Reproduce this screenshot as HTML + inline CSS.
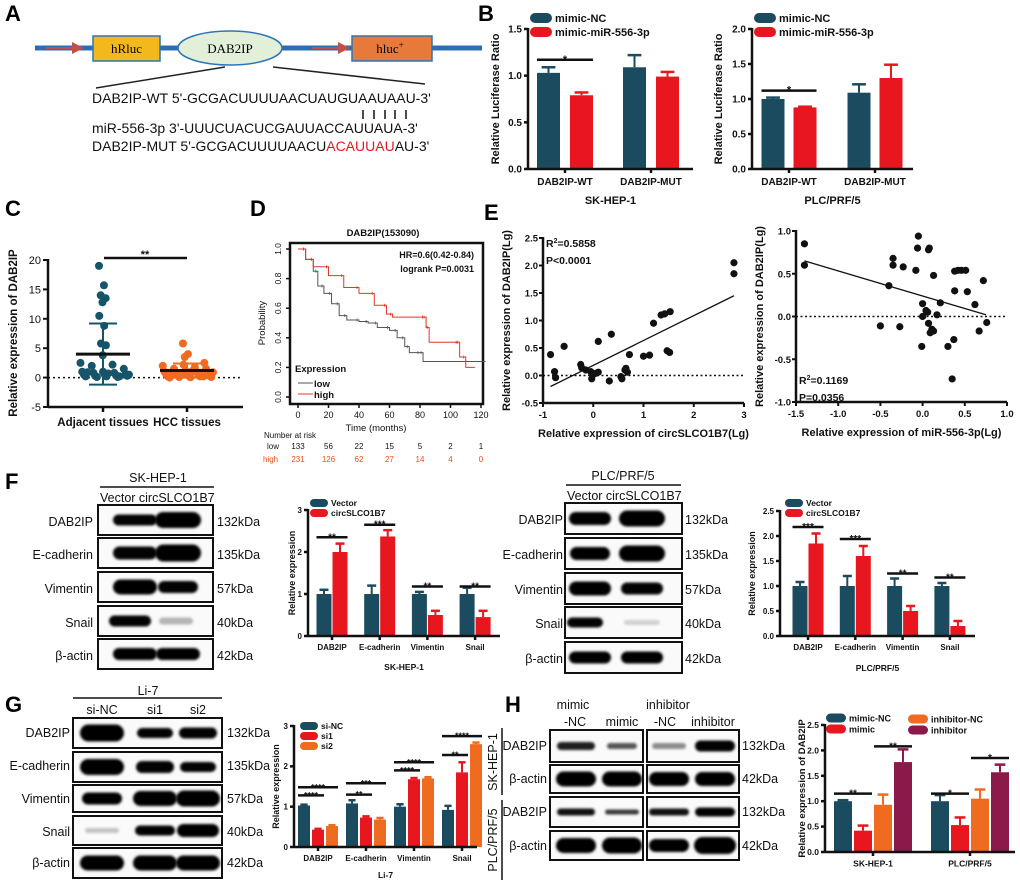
<!DOCTYPE html>
<html><head><meta charset="utf-8">
<style>
html,body{margin:0;padding:0;background:#fff;}
svg{display:block;font-family:"Liberation Sans",Arial,sans-serif;}
.pl{font-size:22px;font-weight:bold;}
.b{font-weight:bold;}
</style></head>
<body>
<svg id="fig" width="1020" height="885" viewBox="0 0 1020 885" xmlns="http://www.w3.org/2000/svg">
<defs>
<filter id="blur" x="-20%" y="-50%" width="140%" height="200%"><feGaussianBlur stdDeviation="1.2"/></filter>
<marker id="arr" markerWidth="6" markerHeight="6" refX="5" refY="3" orient="auto"><path d="M0,0 L6,3 L0,6 z" fill="#c0504d"/></marker>
</defs>

<!-- Panel A -->
<g>
<text x="5" y="21" class="pl">A</text>
<line x1="35" y1="48" x2="482" y2="48" stroke="#2e6db4" stroke-width="5"/>
<line x1="46" y1="48" x2="82" y2="48" stroke="#c0504d" stroke-width="2" marker-end="url(#arr)"/>
<line x1="312" y1="48" x2="348" y2="48" stroke="#c0504d" stroke-width="2" marker-end="url(#arr)"/>
<rect x="93" y="36" width="67" height="25" fill="#f2b81c" stroke="#2e75b6" stroke-width="1.5"/>
<text x="126.5" y="53" text-anchor="middle" font-family="Liberation Serif,serif" font-size="13">hRluc</text>
<ellipse cx="230" cy="48" rx="52" ry="17" fill="#e2efd9" stroke="#2e75b6" stroke-width="1.5"/>
<text x="230" y="53" text-anchor="middle" font-family="Liberation Serif,serif" font-size="13">DAB2IP</text>
<rect x="352" y="36" width="80" height="25" fill="#e7793a" stroke="#2e75b6" stroke-width="1.5"/>
<text x="390" y="53" text-anchor="middle" font-family="Liberation Serif,serif" font-size="13">hluc<tspan dy="-5" font-size="9">+</tspan></text>
<line x1="225" y1="67" x2="96" y2="88" stroke="#222" stroke-width="1.5"/>
<line x1="273" y1="67" x2="425" y2="84" stroke="#222" stroke-width="1.5"/>
<g font-size="14" fill="#111">
<text x="92" y="103">DAB2IP-WT 5'-GCGACUUUUAACUAUGUAAUAAU-3'</text>
<g stroke="#111" stroke-width="1.5">
<line x1="363" y1="110" x2="363" y2="119"/><line x1="374" y1="110" x2="374" y2="119"/><line x1="385" y1="110" x2="385" y2="119"/><line x1="395" y1="110" x2="395" y2="119"/><line x1="406" y1="110" x2="406" y2="119"/>
</g>
<text x="92" y="133">miR-556-3p  3'-UUUCUACUCGAUUACCAUUAUA-3'</text>
<text x="92" y="151">DAB2IP-MUT 5'-GCGACUUUUAACU<tspan fill="#e8161f">ACAUUAU</tspan>AU-3'</text>
</g>
</g>

<text x="478" y="21" class="pl">B</text>
<text x="5" y="216" class="pl">C</text>
<text x="250" y="216" class="pl">D</text>
<text x="484" y="220" class="pl">E</text>
<text x="5" y="489" class="pl">F</text>
<text x="5" y="712" class="pl">G</text>
<text x="505" y="712" class="pl">H</text>

<g id="dyn"></g>
</svg>

<script>
// ---------- DATA ----------
// Panel B
var bCats = ["DAB2IP-WT","DAB2IP-MUT"];
var bLeftNC = [1.03,1.09], bLeftMimic = [0.79,0.99];
var bLeftNCErr = [0.06,0.13], bLeftMimicErr = [0.03,0.05];
var bRightNC = [1.0,1.09], bRightMimic = [0.88,1.30];
var bRightNCErr = [0.02,0.12], bRightMimicErr = [0.01,0.19];
var bLeftTicks = [0,0.5,1.0,1.5], bRightTicks = [0,0.5,1.0,1.5,2.0];
// Panel C
var cCats = ["Adjacent tissues","HCC tissues"];
var cAdjacent = [19,15.7,14,13.5,12.8,10.5,8.8,5.8,5.5,3.8,2.5,2.2,2,1.5,1,1,0.8,0.8,0.6,0.5,0.5,0.4,0.3,0.3,0.2,0.2,0.1,0.1,0.5,0.7,0.9,0.2];
var cHCC = [5.8,4,3.5,2.5,2.2,2,1.8,1.5,1.5,1.2,1,1,0.8,0.8,0.6,0.5,0.5,0.4,0.3,0.3,0.2,0.2,0.1,0.1,0.05,0,0.3,0.6,0.9,1.1,0.4,0.2];
var cMeans = [4.0,1.2], cSD = [5.2,1.2];
var cTicks = [-5,0,5,10,15,20];
// Panel D (Kaplan-Meier)
var dLowT = [0,5,10,13,17,22,27,32,40,46,52,60,65,70,73,80,82,123];
var dLowS = [1,0.93,0.85,0.75,0.70,0.63,0.55,0.52,0.51,0.50,0.47,0.45,0.40,0.34,0.30,0.30,0.24,0.24];
var dHighT = [0,5,10,20,30,40,50,58,62,83,84,86,105,106,110,116];
var dHighS = [1,0.93,0.88,0.82,0.74,0.70,0.62,0.56,0.54,0.54,0.47,0.37,0.37,0.27,0.20,0.20];
var dXTicks = [0,20,40,60,80,100,120], dYTicks = [0,0.2,0.4,0.6,0.8,1.0];
var dRiskLow = [133,56,22,15,5,2,1], dRiskHigh = [231,126,62,27,14,4,0];
// Panel E
var eLeftX = [-0.85,-0.77,-0.75,-0.58,-0.25,-0.23,-0.15,-0.05,-0.03,0,0.05,0.1,0.1,0.32,0.36,0.55,0.57,0.63,0.65,0.68,0.72,1.0,1.12,1.2,1.35,1.42,1.47,1.52,1.53,2.8,2.8];
var eLeftY = [0.38,0.07,-0.04,0.53,0.2,0.14,0.1,0.07,-0.06,0.02,0.04,0.06,0.62,-0.1,0.75,-0.02,-0.06,0.1,0.13,0.06,0.38,0.35,0.37,0.95,1.1,1.12,0.45,0.42,1.16,2.05,1.85];
var eLeftFit = [[-0.85,-0.2],[2.8,1.45]];
var eRightX = [-1.4,-1.4,-0.5,-0.4,-0.35,-0.35,-0.27,-0.23,-0.08,-0.06,-0.05,0.08,0.07,0,0,-0.01,0.04,0.06,0.07,0.09,0.11,0.13,0.13,0.17,0.21,0.3,0.35,0.37,0.38,0.38,0.42,0.46,0.51,0.53,0.62,0.67,0.72,0.76];
var eRightY = [0.85,0.6,-0.11,0.36,0.68,0.6,-0.12,0.58,0.54,0.8,0.94,0.8,0.78,0.15,0.0,-0.35,0.07,0.05,-0.08,-0.19,-0.15,-0.17,0.48,0.02,0.16,-0.35,-0.73,-0.27,0.53,0.3,0.54,0.54,0.54,0.29,0.14,-0.17,0.42,-0.07];
var eRightFit = [[-1.4,0.65],[0.75,0.02]];
// Panel F
var fCats = ["DAB2IP","E-cadherin","Vimentin","Snail"];
var fSkVector = [1,1,1,1], fSkCirc = [2.0,2.37,0.5,0.45];
var fSkVectorErr = [0.1,0.2,0.05,0.15], fSkCircErr = [0.2,0.15,0.1,0.15];
var fPlcVector = [1,1,1,1], fPlcCirc = [1.85,1.6,0.5,0.2];
var fPlcVectorErr = [0.08,0.2,0.15,0.06], fPlcCircErr = [0.2,0.2,0.1,0.1];
// Panel G
var gNC = [1.03,1.08,1.0,0.92], gSi1 = [0.43,0.73,1.68,1.85], gSi2 = [0.52,0.68,1.7,2.55];
var gNCErr = [0.02,0.08,0.06,0.1], gSi1Err = [0.02,0.03,0.03,0.25], gSi2Err = [0.02,0.04,0.03,0.04];
// Panel H
var hCats = ["SK-HEP-1","PLC/PRF/5"];
var hMimicNC = [1.0,1.0], hMimic = [0.42,0.53], hInhNC = [0.93,1.05], hInh = [1.77,1.57];
var hMimicNCErr = [0.02,0.12], hMimicErr = [0.1,0.15], hInhNCErr = [0.2,0.18], hInhErr = [0.25,0.15];

// ---------- HELPERS ----------
var NS = "http://www.w3.org/2000/svg";
var root = document.getElementById("dyn");
var TEAL="#1a4b5e", RED="#e8161f", ORANGE="#ef6b1f", MAROON="#8b1a4a";
function mk(tag, attrs, parent){
  var e = document.createElementNS(NS, tag);
  for (var k in attrs) e.setAttribute(k, attrs[k]);
  (parent||root).appendChild(e); return e;
}
function txt(x,y,s,size,opts,parent){
  opts = opts||{};
  var t = mk("text",{x:x,y:y,"font-size":size,"text-anchor":opts.anchor||"start","font-weight":opts.bold?"bold":"normal",fill:opts.fill||"#111"},parent);
  if (opts.rot) t.setAttribute("transform","rotate("+opts.rot+" "+x+" "+y+")");
  t.textContent = s; return t;
}

function barChart(cfg, cats, vals, errs, colors, sigs){
  var g = mk("g",{});
  
  
  function y(v){ return cfg.y0 - (v - (cfg.ymin||0))/(cfg.ymax-(cfg.ymin||0))*(cfg.y0-cfg.yTop); }
  var n = vals.length;
  function bx(i,j){ return cfg.xStart + i*cfg.step + (j-(n-1)/2)*cfg.gap; }
  for (var j=0;j<n;j++){
    for (var i=0;i<cats.length;i++){
      var v = vals[j][i], cx = bx(i,j);
      var r = mk("rect",{x:cx-cfg.bw/2,y:y(v),width:cfg.bw,height:y(0)-y(v),fill:colors[j]},g);
      
      
      var e = errs[j][i];
      mk("line",{x1:cx,x2:cx,y1:y(v),y2:y(v+e),stroke:colors[j],"stroke-width":2},g);
      mk("line",{x1:cx-cfg.bw*0.3,x2:cx+cfg.bw*0.3,y1:y(v+e),y2:y(v+e),stroke:colors[j],"stroke-width":2.5},g);
    }
  }
  var ax = mk("g",{stroke:"#111","stroke-width":2.5},g);
  mk("line",{x1:cfg.axisX,x2:cfg.axisX,y1:cfg.yTop-1,y2:y(cfg.ymin||0)+1},ax);
  mk("line",{x1:cfg.axisX,x2:cfg.xEnd,y1:y(0),y2:y(0)},ax);
  cfg.ticks.forEach(function(t,k){
    mk("line",{x1:cfg.axisX-4,x2:cfg.axisX,y1:y(t),y2:y(t)},ax);
    txt(cfg.axisX-6,y(t)+cfg.tf*0.35,cfg.tickLabels[k],cfg.tf,{anchor:"end",bold:true},g);
  });
  cats.forEach(function(c,i){
    var cx = cfg.xStart + i*cfg.step;
    mk("line",{x1:cx,x2:cx,y1:y(0),y2:y(0)+4},ax);
    var t = txt(cx,y(0)+cfg.tf+6,c,cfg.tf,{anchor:"middle",bold:true},g);
    
    
  });
  var yt = txt(cfg.ytX,(cfg.yTop+cfg.y0)/2,cfg.ytitle,cfg.yf,{anchor:"middle",bold:true,rot:-90},g);
  
  
  if (cfg.sub){
    var st = txt((cfg.axisX+cfg.xEnd)/2,cfg.subY,cfg.sub,cfg.sf,{anchor:"middle",bold:true},g);
    
    
  }
  cfg.legend.forEach(function(L){
    var sw = mk("rect",{x:L[0],y:L[1]-L[4]/2,width:L[5],height:L[4],rx:L[4]/2,fill:L[3]},g);
    
    
    var lt = txt(L[0]+L[5]+3,L[1]+L[4]*0.4,L[2],cfg.lf,{bold:true},g);
    
    
  });
  (sigs||[]).forEach(function(s){
    var x1 = bx(s[0],s[1])-cfg.bw/2, x2 = bx(s[0],s[2])+cfg.bw/2, yy = y(s[3]);
    mk("line",{x1:x1,x2:x2,y1:yy,y2:yy,stroke:"#111","stroke-width":2.5},g);
    txt((x1+x2)/2,yy+3,s[4],cfg.sigf||11,{anchor:"middle",bold:true},g);
  });
}

// ---------- PANEL B ----------
barChart({name:"chart-b-sk-hep-1",xStart:565,step:86,gap:33,bw:23,y0:169,yTop:29,ymax:1.5,axisX:528,xEnd:693,
  ticks:bLeftTicks,tickLabels:["0.0","0.5","1.0","1.5"],tf:10,ytX:499,ytitle:"Relative Luciferase Ratio",yf:11,
  sub:"SK-HEP-1",subY:204,sf:11,lf:11,
  legend:[[530,18,"mimic-NC",TEAL,10,22],[530,32,"mimic-miR-556-3p",RED,10,22]]},
  bCats,[bLeftNC,bLeftMimic],[bLeftNCErr,bLeftMimicErr],[TEAL,RED],[[0,0,1,1.17,"*"]]);
barChart({name:"chart-b-plc-prf-5",xStart:789,step:86,gap:32,bw:23,y0:169,yTop:29,ymax:2.0,axisX:752,xEnd:913,
  ticks:bRightTicks,tickLabels:["0.0","0.5","1.0","1.5","2.0"],tf:10,ytX:722,ytitle:"Relative Luciferase Ratio",yf:11,
  sub:"PLC/PRF/5",subY:204,sf:11,lf:11,
  legend:[[754,18,"mimic-NC",TEAL,10,22],[754,32,"mimic-miR-556-3p",RED,10,22]]},
  bCats,[bRightNC,bRightMimic],[bRightNCErr,bRightMimicErr],[TEAL,RED],[[0,0,1,1.12,"*"]]);

// ---------- PANEL C ----------
(function(){
  var g = mk("g",{});
  
  
  var y0v=-5, y1v=20, py0=407, py1=260;
  function y(v){ return py0 - (v-y0v)/(y1v-y0v)*(py0-py1); }
  var cx = [103,187];
  mk("line",{x1:48,x2:243,y1:y(0),y2:y(0),stroke:"#111","stroke-width":1.5,"stroke-dasharray":"2,3"},g);
  [cAdjacent,cHCC].forEach(function(arr,k){
    var col = k===0?"#16546a":"#ef6b1f";
    arr.forEach(function(v,i){
      var jit = ((i*37)%61 - 30)/30 * (v>3?4:26);
      var d = mk("circle",{cx:cx[k]+jit,cy:y(v),r:4,fill:col},g);
      
      
    });
    mk("line",{x1:cx[k],x2:cx[k],y1:y(cMeans[k]-cSD[k]),y2:y(cMeans[k]+cSD[k]),stroke:col,"stroke-width":2},g);
    mk("line",{x1:cx[k]-14,x2:cx[k]+14,y1:y(cMeans[k]+cSD[k]),y2:y(cMeans[k]+cSD[k]),stroke:col,"stroke-width":2},g);
    mk("line",{x1:cx[k]-14,x2:cx[k]+14,y1:y(cMeans[k]-cSD[k]),y2:y(cMeans[k]-cSD[k]),stroke:col,"stroke-width":2},g);
    mk("line",{x1:cx[k]-27,x2:cx[k]+27,y1:y(cMeans[k]),y2:y(cMeans[k]),stroke:"#111","stroke-width":3},g);
    mk("line",{x1:cx[k],x2:cx[k],y1:407,y2:412,stroke:"#111","stroke-width":2.5},g);
    txt(cx[k],426,cCats[k],11.5,{anchor:"middle",bold:true},g);
  });
  mk("line",{x1:48,x2:48,y1:259,y2:408,stroke:"#111","stroke-width":2.5},g);
  mk("line",{x1:48,x2:243,y1:407,y2:407,stroke:"#111","stroke-width":2.5},g);
  cTicks.forEach(function(t){
    mk("line",{x1:43,x2:48,y1:y(t),y2:y(t),stroke:"#111","stroke-width":2},g);
    txt(41,y(t)+4,String(t),11,{anchor:"end"},g);
  });
  txt(17,333,"Relative expression of DAB2IP",11.5,{anchor:"middle",bold:true,rot:-90},g);
  mk("line",{x1:104,x2:187,y1:258,y2:258,stroke:"#111","stroke-width":2.5},g);
  txt(145,258,"**",11,{anchor:"middle",bold:true},g);
})();

// ---------- PANEL D ----------
(function(){
  var g = mk("g",{});
  
  
  function x(t){ return 298 + t/120*183; }
  function y(s){ return 397 - s*148; }
  txt(383,236,"DAB2IP(153090)",9.5,{anchor:"middle",bold:true},g);
  mk("rect",{x:290,y:243,width:193,height:161,fill:"none",stroke:"#111","stroke-width":2.5},g);
  function curve(T,S,col,nm){
    var d = "M"+x(T[0])+","+y(S[0]);
    for (var i=1;i<T.length;i++) d += " H"+x(T[i])+" V"+y(S[i]);
    var p = mk("path",{d:d,fill:"none",stroke:col,"stroke-width":1},g);
    
    
    for (var i=1;i<T.length-1;i++){ mk("line",{x1:x(T[i])-2,x2:x(T[i])-2,y1:y(S[i-1])-1.5,y2:y(S[i-1])+1.5,stroke:col,"stroke-width":0.8},g); }
  }
  curve(dLowT,dLowS,"#555","curve-low");
  curve(dHighT,dHighS,"#e8332b","curve-high");
  dXTicks.forEach(function(t,i){
    mk("line",{x1:x(t),x2:x(t),y1:404,y2:408,stroke:"#111","stroke-width":1.5},g);
    txt(x(t),418,String(t),9,{anchor:"middle"},g);
    txt(x(t),449,String(dRiskLow[i]),8,{anchor:"middle"},g);
    txt(x(t),462,String(dRiskHigh[i]),8,{anchor:"middle",fill:"#e8501f"},g);
  });
  dYTicks.forEach(function(t){
    mk("line",{x1:286,x2:290,y1:y(t),y2:y(t),stroke:"#111","stroke-width":1.5},g);
    txt(281,y(t),t.toFixed(1),8.5,{anchor:"middle",rot:-90},g);
  });
  txt(265,323,"Probability",9.5,{anchor:"middle",rot:-90},g);
  txt(376,431,"Time (months)",9.5,{anchor:"middle"},g);
  txt(264,438,"Number at risk",8,{},g);
  txt(267,449,"low",8,{},g);
  txt(263,462,"high",8,{fill:"#e8501f"},g);
  txt(474,258,"HR=0.6(0.42-0.84)",9,{anchor:"end",bold:true},g);
  txt(474,272,"logrank P=0.0031",9,{anchor:"end",bold:true},g);
  txt(295,372,"Expression",9.5,{bold:true},g);
  mk("line",{x1:298,x2:313,y1:383,y2:383,stroke:"#555"},g);
  txt(314,387,"low",9.5,{bold:true},g);
  mk("line",{x1:298,x2:313,y1:394,y2:394,stroke:"#e8332b"},g);
  txt(314,398,"high",9.5,{bold:true},g);
})();

// ---------- PANEL E ----------
function scatterE(name,X,Y,fit,xr,yr,px,py,xt,xtl,yt,ytl,xtitle,stats,statY){
  var g = mk("g",{});
  
  
  function x(v){ return px[0] + (v-xr[0])/(xr[1]-xr[0])*(px[1]-px[0]); }
  function y(v){ return py[0] - (v-yr[0])/(yr[1]-yr[0])*(py[0]-py[1]); }
  mk("line",{x1:px[0],x2:px[1],y1:y(0),y2:y(0),stroke:"#111","stroke-width":1.5,"stroke-dasharray":"2,2.5"},g);
  for (var i=0;i<X.length;i++){
    var c = mk("circle",{cx:x(X[i]),cy:y(Y[i]),r:3.6,fill:"#111"},g);
    
    
  }
  mk("line",{x1:x(fit[0][0]),y1:y(fit[0][1]),x2:x(fit[1][0]),y2:y(fit[1][1]),stroke:"#111","stroke-width":1.3},g);
  mk("line",{x1:px[0],x2:px[0],y1:py[1]-1,y2:py[0],stroke:"#111","stroke-width":2.5},g);
  mk("line",{x1:px[0],x2:px[1],y1:py[0],y2:py[0],stroke:"#111","stroke-width":2.5},g);
  xt.forEach(function(t,i){
    mk("line",{x1:x(t),x2:x(t),y1:py[0],y2:py[0]+4,stroke:"#111","stroke-width":2},g);
    txt(x(t),py[0]+15,xtl[i],9.5,{anchor:"middle",bold:true},g);
  });
  yt.forEach(function(t,i){
    mk("line",{x1:px[0]-4,x2:px[0],y1:y(t),y2:y(t),stroke:"#111","stroke-width":2},g);
    txt(px[0]-5,y(t)+3.5,ytl[i],9.5,{anchor:"end",bold:true},g);
  });
  txt((px[0]+px[1])/2,py[0]+34,xtitle,11,{anchor:"middle",bold:true},g);
  txt(px[0]-33,(py[0]+py[1])/2,"Relative expression of DAB2IP(Lg)",11,{anchor:"middle",bold:true,rot:-90},g);
  var t1 = txt(px[0]+3,statY,"R",10.5,{bold:true},g);
  var sp = mk("tspan",{dy:-4,"font-size":7},t1); sp.textContent="2";
  var sp2 = mk("tspan",{dy:4},t1); sp2.textContent="="+stats[0];
  txt(px[0]+3,statY+17,stats[1],10.5,{bold:true},g);
}
scatterE("chart-e-circ",eLeftX,eLeftY,eLeftFit,[-1,3],[-0.5,2.5],[543,744],[403,238],
  [-1,0,1,2,3],["-1","0","1","2","3"],[-0.5,0,0.5,1,1.5,2,2.5],["-0.5","0.0","0.5","1.0","1.5","2.0","2.5"],
  "Relative expression of circSLCO1B7(Lg)",["0.5858","P<0.0001"],247);
scatterE("chart-e-mir",eRightX,eRightY,eRightFit,[-1.5,1.0],[-1,1],[796,1007],[402,231],
  [-1.5,-1,-0.5,0,0.5,1],["-1.5","-1.0","-0.5","0.0","0.5","1.0"],[-1,-0.5,0,0.5,1],["-1.0","-0.5","0.0","0.5","1.0"],
  "Relative expression of miR-556-3p(Lg)",["0.1169","P=0.0356"],384);

// ---------- BLOTS ----------
function blot(name,x,y,w,h,lanes,parent){
  var g = mk("g",{},parent);
  
  
  mk("rect",{x:x,y:y,width:w,height:h,fill:"#fafafa",stroke:"#111","stroke-width":2},g);
  lanes.forEach(function(L){
    if (L[3] <= 0) return;
    var op = Math.min(1, L[3]*1.1);
    mk("rect",{x:x+L[0]-L[1]/2-2,y:y+h/2-L[2]/2-1,width:L[1]+4,height:L[2]+2,rx:(L[2]+2)/2,fill:"#000","fill-opacity":op,filter:"url(#blur)"},g);
  });
}
function labelRows(labels,kda,xl,xk,ys,size){
  labels.forEach(function(s,i){
    txt(xl,ys[i],s,size,{anchor:"end"});
    txt(xk,ys[i],kda[i],size,{});
  });
}
var protNames = ["DAB2IP","E-cadherin","Vimentin","Snail","β-actin"];
var kdas = ["132kDa","135kDa","57kDa","40kDa","42kDa"];

// F SK-HEP-1
txt(158,482,"SK-HEP-1",12.5,{anchor:"middle"});
mk("line",{x1:100,x2:214,y1:487,y2:487,stroke:"#111","stroke-width":1.5});
txt(100,502,"Vector circSLCO1B7",12.5,{});
var fskRows=[505,538,572,606,639];
var fskBands=[[[37,40,9,0.9],[80,42,14,0.95]],[[37,40,11,0.9],[80,42,15,0.95]],[[37,40,13,0.95],[80,36,10,0.9]],[[32,38,9,0.9],[78,30,5,0.25]],[[37,40,10,0.95],[80,40,10,0.95]]];
fskRows.forEach(function(r,i){ blot("blot-f-sk-"+i,98,r,115,30,fskBands[i]); });
labelRows(protNames,kdas,93,217,[526,559,593,627,660],12.5);
// F PLC
txt(623,480,"PLC/PRF/5",12.5,{anchor:"middle"});
mk("line",{x1:566,x2:681,y1:485,y2:485,stroke:"#111","stroke-width":1.5});
txt(567,500,"Vector circSLCO1B7",12.5,{});
var fplcRows=[503,538,573,607,642];
var fplcBands=[[[25,38,11,0.95],[77,42,14,0.95]],[[25,36,11,0.95],[77,42,14,0.95]],[[25,38,12,0.95],[77,38,10,0.9]],[[20,32,8,0.9],[77,32,3,0.15]],[[25,38,10,0.95],[77,38,10,0.95]]];
fplcRows.forEach(function(r,i){ blot("blot-f-plc-"+i,565,r,117,31,fplcBands[i]); });
labelRows(protNames,kdas,563,685,[524,559,594,628,663],12.5);

// G
txt(148,695,"Li-7",12.5,{anchor:"middle"});
mk("line",{x1:73,x2:222,y1:698,y2:698,stroke:"#111","stroke-width":1.5});
txt(102,714,"si-NC",12.5,{anchor:"middle"});txt(155,714,"si1",12.5,{anchor:"middle"});txt(198,714,"si2",12.5,{anchor:"middle"});
var gRows=[[718,30],[752,30],[785,27],[816,29],[848,30]];
var gBands=[[[29,40,15,0.95],[82,32,8,0.9],[125,34,9,0.9]],[[29,40,14,0.95],[82,34,10,0.9],[125,32,8,0.9]],[[29,36,10,0.95],[82,40,13,0.95],[125,40,14,0.95]],[[29,30,3,0.2],[82,36,8,0.9],[125,38,11,0.95]],[[29,40,13,0.95],[82,40,13,0.95],[125,40,13,0.95]]];
gRows.forEach(function(r,i){ blot("blot-g-"+i,73,r[0],149,r[1],gBands[i]); });
labelRows(protNames,kdas,70,227,[737,770,803,836,867],12.5);

// H
txt(573,709,"mimic",12.5,{anchor:"middle"});txt(575,726,"-NC",12.5,{anchor:"middle"});
txt(622,726,"mimic",12.5,{anchor:"middle"});
txt(668,709,"inhibitor",12.5,{anchor:"middle"});txt(665,726,"-NC",12.5,{anchor:"middle"});
txt(713,726,"inhibitor",12.5,{anchor:"middle"});
var hRows=[[730,32],[765,28],[797,30],[831,29]];
var hBandsL=[[[26,34,6,0.8],[72,26,4,0.6]],[[26,36,13,0.95],[72,36,13,0.95]],[[26,34,5,0.85],[72,30,3,0.7]],[[26,36,13,0.95],[72,36,14,0.95]]];
var hBandsR=[[[22,30,4,0.4],[68,36,9,0.9]],[[22,36,12,0.95],[68,36,12,0.95]],[[22,36,5,0.85],[68,36,7,0.9]],[[22,36,11,0.95],[68,38,15,0.95]]];
hRows.forEach(function(r,i){ blot("blot-h-left-"+i,550,r[0],93,r[1],hBandsL[i]); blot("blot-h-right-"+i,647,r[0],92,r[1],hBandsR[i]); });
labelRows(["DAB2IP","β-actin","DAB2IP","β-actin"],["132kDa","42kDa","132kDa","42kDa"],547,742,[750,783,816,850],12.5);
txt(497,762,"SK-HEP-1",12.5,{anchor:"middle",rot:-90});
txt(497,840,"PLC/PRF/5",12.5,{anchor:"middle",rot:-90});
mk("line",{x1:502,x2:502,y1:728,y2:795,stroke:"#111","stroke-width":1.5});
mk("line",{x1:502,x2:502,y1:800,y2:880,stroke:"#111","stroke-width":1.5});

// ---------- PANEL F/G/H BAR CHARTS ----------
barChart({name:"chart-f-sk-hep-1",xStart:332,step:47.7,gap:16,bw:15,y0:636,yTop:510,ymax:3,axisX:308,xEnd:500,
  ticks:[0,1,2,3],tickLabels:["0","1","2","3"],tf:8,ytX:295,ytitle:"Relative expression",yf:9,
  sub:"SK-HEP-1",subY:670,sf:8.5,lf:8.5,sigf:10,
  legend:[[310,503,"Vector",TEAL,8,18],[310,513,"circSLCO1B7",RED,8,18]]},
  fCats,[fSkVector,fSkCirc],[fSkVectorErr,fSkCircErr],[TEAL,RED],
  [[0,0,1,2.35,"**"],[1,0,1,2.65,"***"],[2,0,1,1.18,"**"],[3,0,1,1.18,"**"]]);
barChart({name:"chart-f-plc-prf-5",xStart:808,step:47.3,gap:16,bw:15,y0:636,yTop:511,ymax:2.5,axisX:780,xEnd:975,
  ticks:[0,0.5,1,1.5,2,2.5],tickLabels:["0.0","0.5","1.0","1.5","2.0","2.5"],tf:8,ytX:755,ytitle:"Relative expression",yf:9,
  sub:"PLC/PRF/5",subY:671,sf:8.5,lf:8.5,sigf:10,
  legend:[[785,503,"Vector",TEAL,8,18],[785,513,"circSLCO1B7",RED,8,18]]},
  fCats,[fPlcVector,fPlcCirc],[fPlcVectorErr,fPlcCircErr],[TEAL,RED],
  [[0,0,1,2.18,"***"],[1,0,1,1.94,"***"],[2,0,1,1.25,"**"],[3,0,1,1.17,"**"]]);
barChart({name:"chart-g-li-7",xStart:318,step:48,gap:14,bw:12,y0:847,yTop:726,ymax:3,axisX:294,xEnd:477,
  ticks:[0,1,2,3],tickLabels:["0","1","2","3"],tf:8,ytX:279,ytitle:"Relative expression",yf:9,
  sub:"Li-7",subY:878,sf:8.5,lf:8.5,sigf:9,
  legend:[[300,726,"si-NC",TEAL,8,18],[300,736,"si1",RED,8,18],[300,746,"si2",ORANGE,8,18]]},
  fCats,[gNC,gSi1,gSi2],[gNCErr,gSi1Err,gSi2Err],[TEAL,RED,ORANGE],
  [[0,0,1,1.28,"****"],[0,0,2,1.48,"****"],[1,0,1,1.3,"**"],[1,0,2,1.58,"***"],[2,0,1,1.9,"****"],[2,0,2,2.1,"****"],[3,0,1,2.28,"**"],[3,0,2,2.75,"****"]]);
barChart({name:"chart-h-dab2ip",xStart:873,step:97,gap:20,bw:18,y0:852,yTop:725,ymax:2.5,axisX:825,xEnd:1015,
  ticks:[0,0.5,1,1.5,2,2.5],tickLabels:["0.0","0.5","1.0","1.5","2.0","2.5"],tf:8.5,ytX:805,ytitle:"Relative expression of DAB2IP",yf:9.5,
  lf:9,sigf:10,
  legend:[[826,718,"mimic-NC",TEAL,9,20],[826,729,"mimic",RED,9,20],[908,719,"inhibitor-NC",ORANGE,9,20],[908,730,"inhibitor",MAROON,9,20]]},
  hCats,[hMimicNC,hMimic,hInhNC,hInh],[hMimicNCErr,hMimicErr,hInhNCErr,hInhErr],[TEAL,RED,ORANGE,MAROON],
  [[0,0,1,1.15,"**"],[0,2,3,2.08,"**"],[1,0,1,1.15,"*"],[1,2,3,1.85,"*"]]);
</script>
</body></html>
